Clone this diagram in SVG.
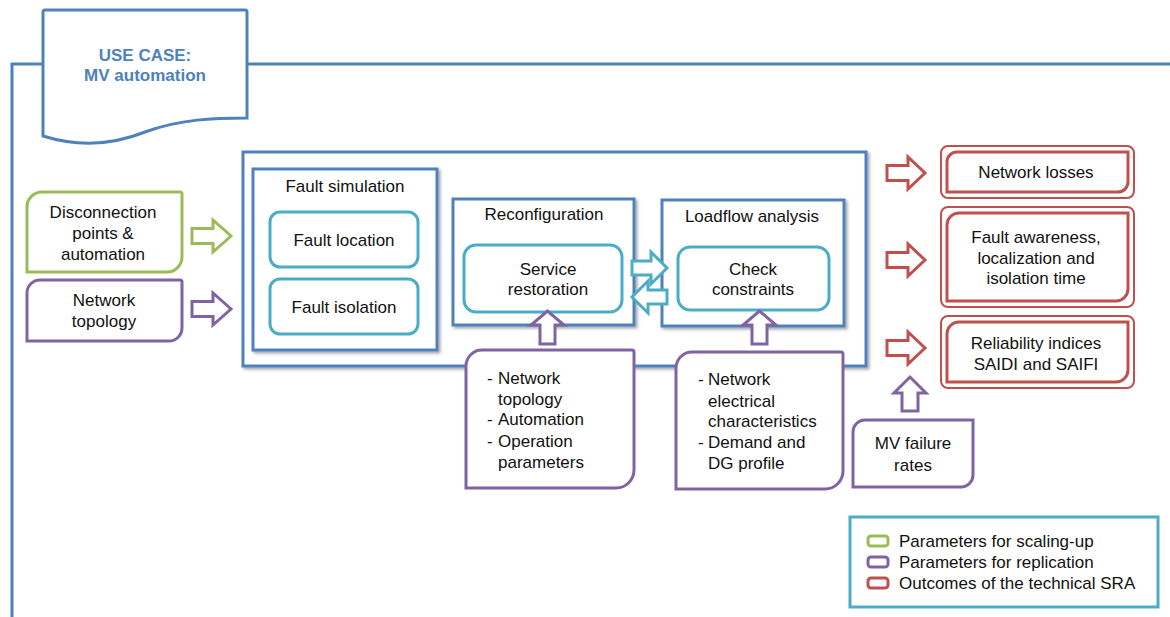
<svg xmlns="http://www.w3.org/2000/svg" width="1170" height="617" viewBox="0 0 1170 617">
<style>
text{font-family:"Liberation Sans",Arial,sans-serif;font-size:17px;fill:#111}
.c{text-anchor:middle}
.blue{fill:#fff;stroke:#4F81BD;stroke-width:3}
.teal{fill:#fff;stroke:#4BACC6;stroke-width:3}
.green{fill:#fff;stroke:#9BBB59;stroke-width:3}
.purple{fill:#fff;stroke:#8064A2;stroke-width:3}
.red{fill:#fff;stroke:#C0504D;stroke-width:3}
.red2{fill:none;stroke:#C0504D;stroke-width:2}
.title{font-weight:bold;fill:#4F81BD}
</style>
<defs>
<filter id="sh" x="-5%" y="-5%" width="115%" height="115%">
<feDropShadow dx="2" dy="2" stdDeviation="1.5" flood-color="#000" flood-opacity="0.35"/>
</filter>
</defs>
<g id="frame">
<path d="M12,617 V64 H1170" fill="none" stroke="#4F81BD" stroke-width="3"/>
</g>
<g id="usecase">
<path class="blue" d="M45,10 H245 Q247,10 247,12 V118 C215,118 180,119 145,132 C110,146 75,146 43,136 V12 Q43,10 45,10 Z"/>
<text class="c title" x="145" y="61">USE CASE:</text>
<text class="c title" x="145" y="81">MV automation</text>
</g>
<g id="main">
<rect class="blue" x="243" y="152" width="623" height="214" filter="url(#sh)"/>
</g>
<g id="faultsim">
<rect class="blue" x="253" y="169" width="184" height="181" filter="url(#sh)"/>
<text class="c" x="345" y="192">Fault simulation</text>
</g>
<g id="faultloc">
<rect class="teal" x="270" y="212" width="148" height="55" rx="10"/>
<text class="c" x="344" y="246">Fault location</text>
</g>
<g id="faultiso">
<rect class="teal" x="270" y="279" width="148" height="55" rx="10"/>
<text class="c" x="344" y="313">Fault isolation</text>
</g>
<g id="reconfig">
<rect class="blue" x="453" y="199" width="181" height="126" filter="url(#sh)"/>
<text class="c" x="544" y="220">Reconfiguration</text>
</g>
<g id="service">
<rect class="teal" x="464" y="245" width="158" height="67" rx="12"/>
<text class="c" x="548" y="275">Service</text>
<text class="c" x="548" y="295">restoration</text>
</g>
<g id="loadflow">
<rect class="blue" x="662" y="200" width="182" height="126" filter="url(#sh)"/>
<text class="c" x="752" y="222">Loadflow analysis</text>
</g>
<g id="check">
<rect class="teal" x="678" y="247" width="151" height="63" rx="12"/>
<text class="c" x="753" y="275">Check</text>
<text class="c" x="753" y="295">constraints</text>
</g>
<g id="disconnection">
<path class="green" d="M42,192 H180 Q182,192 182,194 V257 A15,15 0 0 1 167,272 H27 V207 A15,15 0 0 1 42,192 Z"/>
<text class="c" x="103" y="218">Disconnection</text>
<text class="c" x="103" y="239">points &amp;</text>
<text class="c" x="103" y="260">automation</text>
</g>
<g id="topology">
<path class="purple" d="M40,280 H180 Q182,280 182,282 V328 A13,13 0 0 1 169,341 H27 V293 A13,13 0 0 1 40,280 Z"/>
<text class="c" x="104" y="306">Network</text>
<text class="c" x="104" y="327">topology</text>
</g>
<g id="params1">
<path class="purple" d="M482,350 H632 Q634,350 634,352 V470 A18,18 0 0 1 616,488 H466 V366 A16,16 0 0 1 482,350 Z"/>
<text x="487" y="384">-</text><text x="498" y="384">Network</text>
<text x="498" y="405">topology</text>
<text x="487" y="425">-</text><text x="498" y="425">Automation</text>
<text x="487" y="447">-</text><text x="498" y="447">Operation</text>
<text x="498" y="468">parameters</text>
</g>
<g id="params2">
<path class="purple" d="M692,352 H841 Q843,352 843,354 V471 A18,18 0 0 1 825,489 H676 V368 A16,16 0 0 1 692,352 Z"/>
<text x="698" y="385">-</text><text x="708" y="385">Network</text>
<text x="708" y="407">electrical</text>
<text x="708" y="427">characteristics</text>
<text x="698" y="448">-</text><text x="708" y="448">Demand and</text>
<text x="708" y="469">DG profile</text>
</g>
<g id="mvfailure">
<path class="purple" d="M865,420 H973 V475 A12,12 0 0 1 961,487 H853 V432 A12,12 0 0 1 865,420 Z"/>
<text class="c" x="913" y="449">MV failure</text>
<text class="c" x="913" y="471">rates</text>
</g>
<g id="losses">
<rect class="red2" x="941" y="146" width="193" height="52" rx="7"/>
<path class="red" d="M957,152 H1128 V182 A10,10 0 0 1 1118,192 H947 V162 A10,10 0 0 1 957,152 Z"/>
<text class="c" x="1036" y="178">Network losses</text>
</g>
<g id="awareness">
<rect class="red2" x="941" y="207" width="193" height="100" rx="7"/>
<path class="red" d="M959,213 H1128 V289 A12,12 0 0 1 1116,301 H947 V225 A12,12 0 0 1 959,213 Z"/>
<text class="c" x="1036" y="243">Fault awareness,</text>
<text class="c" x="1036" y="264">localization and</text>
<text class="c" x="1036" y="284">isolation time</text>
</g>
<g id="reliability">
<rect class="red2" x="941" y="316" width="193" height="72" rx="7"/>
<path class="red" d="M959,322 H1128 V370 A12,12 0 0 1 1116,382 H947 V334 A12,12 0 0 1 959,322 Z"/>
<text class="c" x="1036" y="349">Reliability indices</text>
<text class="c" x="1036" y="370">SAIDI and SAIFI</text>
</g>
<g id="legend">
<rect x="850" y="517" width="308" height="90" fill="#fff" stroke="#4BACC6" stroke-width="3"/>
<rect x="868" y="536" width="20" height="10" rx="3" class="green"/>
<rect x="868" y="557" width="20" height="10" rx="3" class="purple"/>
<rect x="868" y="578" width="20" height="10" rx="3" class="red"/>
<text x="899" y="547">Parameters for scaling-up</text>
<text x="899" y="568">Parameters for replication</text>
<text x="899" y="589">Outcomes of the technical SRA</text>
</g>
<g id="connectors">
<path class="green" d="M192,228.5 H213 V220 L231,236 L213,252 V243.5 H192 Z"/>
<path class="purple" d="M192,301.5 H213 V293 L231,309 L213,325 V316.5 H192 Z"/>
<path class="teal" d="M632,261 H651 V252 L667,268 L651,284 V275 H632 Z"/>
<path class="teal" d="M667,290 H648 V281 L632,297 L648,313 V304 H667 Z"/>
<path class="purple" d="M540,344 V325 H531 L547.5,311 L564,325 H555 V344 Z"/>
<path class="purple" d="M752,344 V325 H743 L759.5,311 L776,325 H767 V344 Z"/>
<path class="purple" d="M902,411 V393 H894 L910,377 L926,393 H918 V411 Z"/>
<path class="red" d="M887,165.5 H908 V157 L925,173 L908,189 V180.5 H887 Z"/>
<path class="red" d="M887,252.5 H908 V244 L925,260 L908,276 V267.5 H887 Z"/>
<path class="red" d="M887,340.5 H908 V332 L925,348 L908,364 V355.5 H887 Z"/>
</g>
</svg>
